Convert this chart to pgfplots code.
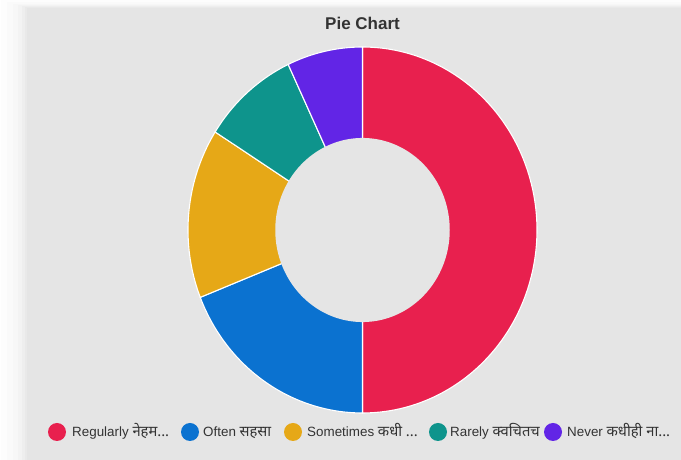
\documentclass[border=0pt]{standalone}
\usepackage{pgfplots}
\pgfplotsset{compat=1.18}
\usepackage{fontspec}
\setmainfont{Liberation Sans}
\newfontfamily\deva[Script=Devanagari,Scale=1.1]{Noto Sans}
\definecolor{bg}{HTML}{E5E5E5}
\definecolor{cA}{HTML}{E8204E}
\definecolor{cB}{HTML}{0B72D0}
\definecolor{cC}{HTML}{E6A817}
\definecolor{cD}{HTML}{0E948C}
\definecolor{cE}{HTML}{6225E6}
\definecolor{txt}{HTML}{333333}
% data: Regularly, Often, Sometimes, Rarely, Never
\def\vA{50}\def\vB{19}\def\vC{15}\def\vD{9}\def\vE{7}
\pgfmathsetmacro\tot{\vA+\vB+\vC+\vD+\vE}
\pgfmathsetmacro\aA{90}
\pgfmathsetmacro\aB{\aA-\vA/\tot*360}
\pgfmathsetmacro\aC{\aB-\vB/\tot*360}
\pgfmathsetmacro\aD{\aC-\vC/\tot*360}
\pgfmathsetmacro\aE{\aD-\vD/\tot*360}
\pgfmathsetmacro\aF{\aE-\vE/\tot*360}
\begin{document}
\begin{tikzpicture}[x=1pt,y=1pt]
\path[use as bounding box] (0,0) rectangle (681,460);
\fill[white] (0,0) rectangle (681,460);
\foreach \i/\o in {26/0.008,20/0.01,14/0.012,9/0.015,5/0.018,2/0.02}{
  \fill[black,opacity=\o] (27-\i,-5) rectangle (690,452+\i*0.3);
}
\fill[bg] (27,0) rectangle (681,452);
\node[font=\bfseries\fontsize{17}{19}\selectfont, text=txt] at (362.5,437) {Pie Chart};
\begin{axis}[hide axis, x=174.5pt, y=183pt,
  xmin=-1.05, xmax=1.05, ymin=-1.05, ymax=1.05,
  anchor=center, at={(362.5pt,230pt)}, clip=false]
\addplot[fill=cA, draw=white, line width=1.1pt, domain=\aB:\aA, samples=120] ({cos(x)},{sin(x)}) -- (axis cs:0,0) -- cycle;
\addplot[fill=cB, draw=white, line width=1.1pt, domain=\aC:\aB, samples=60] ({cos(x)},{sin(x)}) -- (axis cs:0,0) -- cycle;
\addplot[fill=cC, draw=white, line width=1.1pt, domain=\aD:\aC, samples=60] ({cos(x)},{sin(x)}) -- (axis cs:0,0) -- cycle;
\addplot[fill=cD, draw=white, line width=1.1pt, domain=\aE:\aD, samples=40] ({cos(x)},{sin(x)}) -- (axis cs:0,0) -- cycle;
\addplot[fill=cE, draw=white, line width=1.1pt, domain=\aF:\aE, samples=40] ({cos(x)},{sin(x)}) -- (axis cs:0,0) -- cycle;
\addplot[fill=bg, draw=none, domain=0:360, samples=180] ({0.5*cos(x)},{0.503*sin(x)}) -- cycle;
\end{axis}
\begin{scope}[every node/.style={anchor=base west, inner sep=0pt, text=txt, font=\fontsize{13.4}{15}\selectfont}]
\fill[cA] (57,28) circle (9);
\node at (72,23.3) {Regularly {\deva नेहम...}};
\fill[cB] (190,28) circle (9);
\node at (203,23.3) {Often {\deva सहसा}};
\fill[cC] (293,28) circle (9);
\node at (307,23.3) {Sometimes {\deva कधी ...}};
\fill[cD] (438,28) circle (9);
\node at (450,23.3) {Rarely {\deva क्वचितच}};
\fill[cE] (553,28) circle (9);
\node at (567,23.3) {Never {\deva कधीही ना...}};
\end{scope}
\end{tikzpicture}
\end{document}
